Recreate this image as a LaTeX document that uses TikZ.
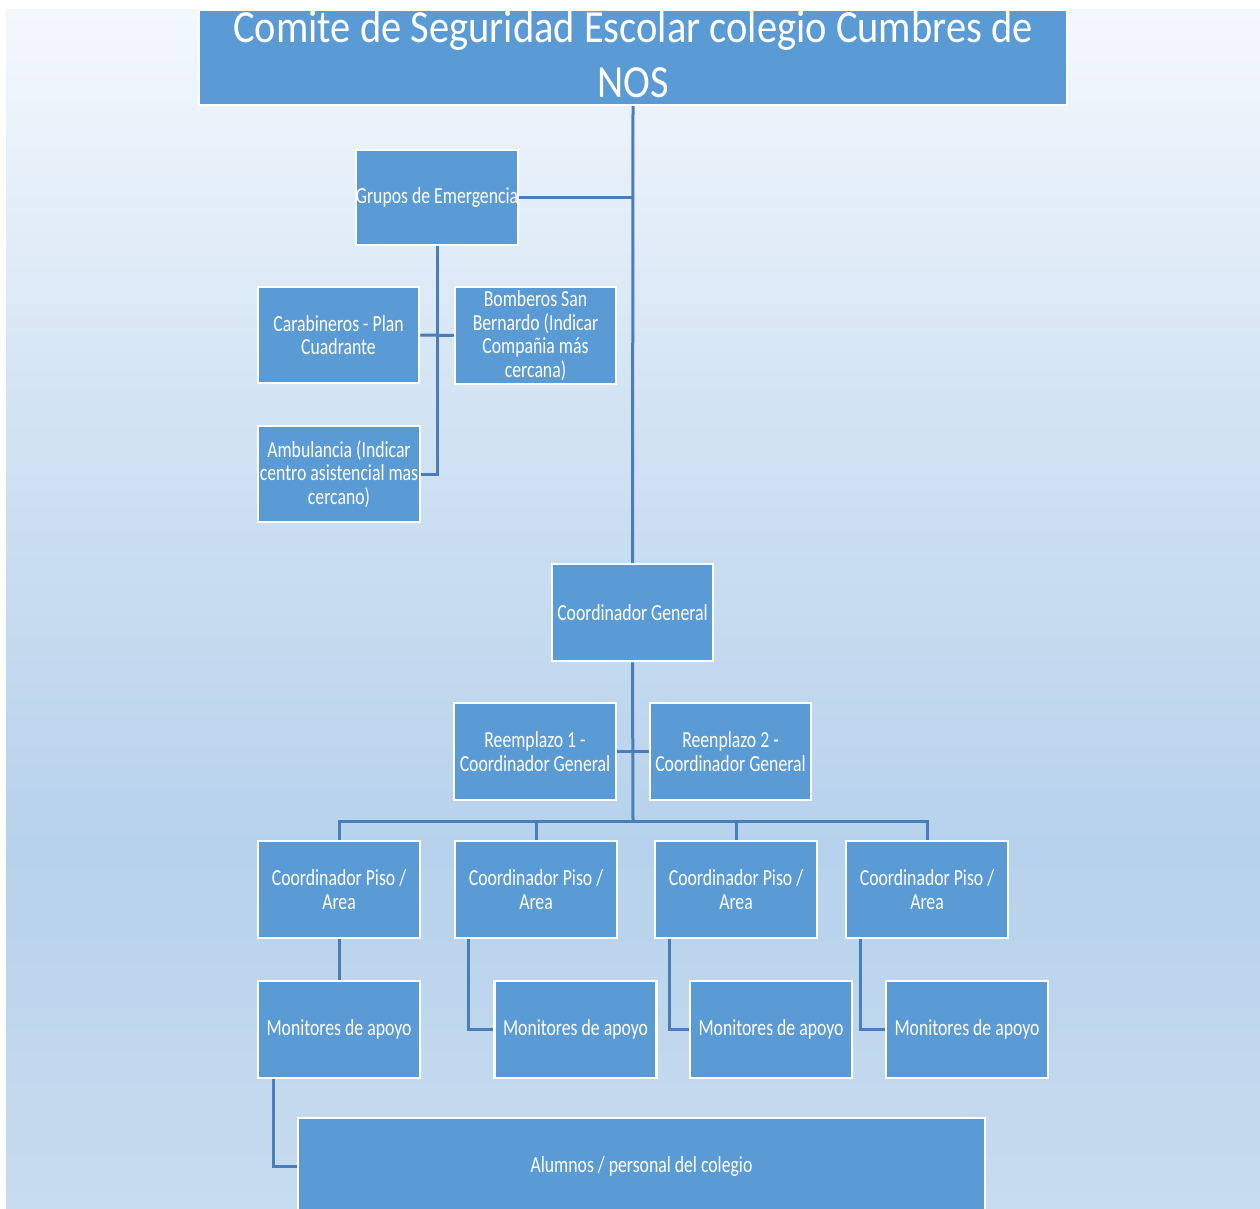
\documentclass[tikz,border=0pt]{standalone}
\usepackage{fontspec}
\setmainfont{Carlito}
\newfontfamily\boxfont[FakeStretch=0.77]{Carlito}
\newfontfamily\titlefont[FakeStretch=0.88]{Carlito}
\definecolor{boxblue}{HTML}{5B9BD5}
\definecolor{linkblue}{HTML}{4A7EBB}
\definecolor{bgA}{HTML}{F4F8FD}
\definecolor{bgB}{HTML}{D2E3F3}
\definecolor{bgC}{HTML}{B7D2EC}
\definecolor{bgD}{HTML}{C8DCEF}
\pgfdeclareverticalshading{bgshade}{100bp}{color(0bp)=(bgD); color(25bp)=(bgD); color(40bp)=(bgC); color(58bp)=(bgB); color(75bp)=(bgA); color(100bp)=(bgA)}
\tikzset{
  box/.style={draw=white, line width=2.5pt, fill=boxblue, text=white, inner sep=0pt, align=center,
    font=\boxfont\fontsize{23pt}{23.5pt}\selectfont},
  link/.style={draw=linkblue, line width=3pt},
}
\begin{document}
\begin{tikzpicture}[x=1pt,y=-1pt]
\useasboundingbox (0,0) rectangle (1260,1209);
\fill[white] (0,0) rectangle (1260,1209);
\shade[shading=bgshade] (6,10) rectangle (1260,1209);

\node[box, minimum width=868pt, minimum height=95pt] (title) at (633,57.5) {};
\node[text=white, inner sep=0pt, align=center, font=\titlefont\fontsize{46pt}{55pt}\selectfont] (titletext) at (633,54.5) {Comite de Seguridad Escolar colegio Cumbres de\\NOS};
\node[box, minimum width=162pt, minimum height=95pt] (grupos) at (437,197.5) {Grupos de Emergencia};
\node[box, minimum width=161pt, minimum height=96pt] (carab) at (338.5,335) {Carabineros - Plan\\Cuadrante};
\node[box, minimum width=161pt, minimum height=97pt] (bomb) at (535.5,335.5) {Bomberos San\\Bernardo (Indicar\\Compañia más\\cercana)};
\node[box, minimum width=162pt, minimum height=96pt] (amb) at (339,474) {Ambulancia (Indicar\\centro asistencial mas\\cercano)};
\node[box, minimum width=161pt, minimum height=97pt] (cg) at (632.5,612.5) {Coordinador General};
\node[box, minimum width=162pt, minimum height=97pt] (r1) at (535,751.5) {Reemplazo 1 -\\Coordinador General};
\node[box, minimum width=161pt, minimum height=97pt] (r2) at (730.5,751.5) {Reenplazo 2 -\\Coordinador General};
\node[box, minimum width=162pt, minimum height=97pt] (p1) at (339,889.5) {Coordinador Piso /\\Area};
\node[box, minimum width=162pt, minimum height=97pt] (p2) at (536,889.5) {Coordinador Piso /\\Area};
\node[box, minimum width=162pt, minimum height=97pt] (p3) at (736,889.5) {Coordinador Piso /\\Area};
\node[box, minimum width=162pt, minimum height=97pt] (p4) at (927,889.5) {Coordinador Piso /\\Area};
\node[box, minimum width=162pt, minimum height=97pt] (m1) at (339,1029.5) {Monitores de apoyo};
\node[box, minimum width=162pt, minimum height=97pt] (m2) at (575.5,1029.5) {Monitores de apoyo};
\node[box, minimum width=162pt, minimum height=97pt] (m3) at (771,1029.5) {Monitores de apoyo};
\node[box, minimum width=162pt, minimum height=97pt] (m4) at (967,1029.5) {Monitores de apoyo};
\node[box, minimum width=687pt, minimum height=96pt] (al) at (641.5,1166) {Alumnos / personal del colegio};

\coordinate (bus) at (633,821);

\draw[link] (title.south) -- (cg.north);
\draw[link] (grupos.east) -- (grupos.east -| title.south);
\draw[link] (grupos.south) |- (amb.east);
\draw[link] (carab.east) -- (bomb.west);
\draw[link] (cg.south) -- (bus);
\draw[link] (r1.east) -- (r2.west);
\draw[link] (p1.north) |- (bus) -| (p4.north);
\draw[link] (p2.north) -- (p2.north |- bus);
\draw[link] (p3.north) -- (p3.north |- bus);
\draw[link] (p1.south) -- (m1.north);
\draw[link] ([xshift=15pt]p2.south west) |- (m2.west);
\draw[link] ([xshift=16pt]p3.south west) |- (m3.west);
\draw[link] ([xshift=16pt]p4.south west) |- (m4.west);
\draw[link] ([xshift=17pt]m1.south west) |- (al.west);
\end{tikzpicture}
\end{document}
